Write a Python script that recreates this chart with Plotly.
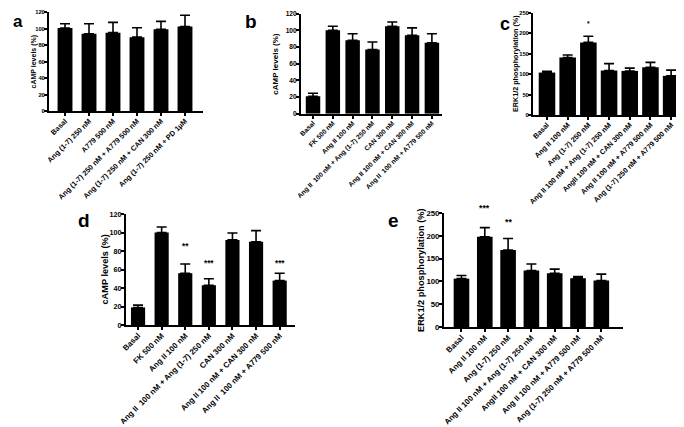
import plotly.graph_objects as go

W, H = 684, 427
FONT = "Liberation Sans, Arial, sans-serif"

# ---------------- data ----------------
a_labels = ["Basal", "Ang (1-7) 250 nM", "A779 500 nM", "Ang (1-7) 250 nM + A779 500 nM",
            "Ang (1-7) 250 nM + CAN 300 nM", "Ang (1-7) 250 nM + PD 1µM"]
a_mean = [100.5, 93.5, 95, 89.5, 99, 102.5]
a_sem = [5.3, 12.3, 12.4, 11.5, 9.6, 13.5]
a_stars = ["", "", "", "", "", ""]
a_star_y = [0, 0, 0, 0, 0, 0]

b_labels = ["Basal", "FK 500 nM", "Ang II 100 nM", "Ang II  100 nM + Ang (1-7) 250 nM",
            "CAN 300 nM", "Ang II 100 nM + CAN 300 nM", "Ang II  100 nM + A779 500 nM"]
b_mean = [21, 100, 88, 77, 105, 94, 85]
b_sem = [3.5, 5, 8, 9, 5, 9, 11]
b_stars = ["", "", "", "", "", "", ""]
b_star_y = [0, 0, 0, 0, 0, 0, 0]

c_labels = ["Basal", "Ang II 100 nM", "Ang (1-7) 250 nM", "Ang II 100 nM + Ang (1-7) 250 nM",
            "AngII 100 nM + CAN 300 nM", "Ang II 100 nM + A779 500 nM",
            "Ang (1-7) 250 nM + A779 500 nM"]
c_mean = [104, 141, 178, 109, 108, 117, 96]
c_sem = [3, 6, 15, 17, 7, 12, 14]
c_stars = ["", "", "*", "", "", "", ""]
c_star_y = [0, 0, 213, 0, 0, 0, 0]

d_labels = b_labels
d_mean = [19, 100, 56, 43, 92, 90, 48]
d_sem = [2.5, 6, 10, 7, 7.5, 12, 8]
d_stars = ["", "", "**", "***", "", "", "***"]
d_star_y = [0, 0, 79, 61, 0, 0, 61]

e_labels = c_labels
e_mean = [106, 198, 169, 124, 118, 107, 102]
e_sem = [7, 20, 25, 14, 9, 3.5, 14]
e_stars = ["", "***", "**", "", "", "", ""]
e_star_y = [0, 250, 219, 0, 0, 0, 0]

camp_title = "cAMP levels (%)"
erk_title = "ERK1/2 phosphorylation (%)"

# ---------------- layout helpers ----------------
def dx(l, r):
    return [l / W, r / W]

def dy(top, bottom):
    return [1 - bottom / H, 1 - top / H]

panels = [
    dict(letter="a", labels=a_labels, mean=a_mean, sem=a_sem, stars=a_stars, star_y=a_star_y,
         xd=(41, 195), yd=(4, 103), xr=[-0.667, 5.75], ymax=120, dtick=20, bw=0.62,
         fx=7.3, fy=5.8, ft=7, tx=25, lp=(10, 13), ls=17, title=camp_title),
    dict(letter="b", labels=b_labels, mean=b_mean, sem=b_sem, stars=b_stars, star_y=b_star_y,
         xd=(293, 434), yd=(5.7, 105.7), xr=[-0.606, 6.51], ymax=120, dtick=20, bw=0.73,
         fx=6.7, fy=6.6, ft=8, tx=268, lp=(243, 13), ls=19, title=camp_title),
    dict(letter="c", labels=c_labels, mean=c_mean, sem=c_sem, stars=c_stars, star_y=c_star_y,
         xd=(525, 683), yd=(5, 107), xr=[-0.676, 6.96], ymax=250, dtick=50, bw=0.8,
         fx=7.2, fy=5.8, ft=7.2, tx=507, lp=(497, 16), ls=18, title=erk_title),
    dict(letter="d", labels=d_labels, mean=d_mean, sem=d_sem, stars=d_stars, star_y=d_star_y,
         xd=(118, 287), yd=(206, 317), xr=[-0.51, 6.65], ymax=120, dtick=20, bw=0.6,
         fx=7.9, fy=7.2, ft=9.2, tx=96, lp=(76, 212), ls=19, title=camp_title),
    dict(letter="e", labels=e_labels, mean=e_mean, sem=e_sem, stars=e_stars, star_y=e_star_y,
         xd=(436, 615), yd=(205, 319), xr=[-0.75, 6.93], ymax=250, dtick=50, bw=0.67,
         fx=7.9, fy=7.8, ft=9.2, tx=413, lp=(385, 212), ls=19, title=erk_title),
]

fig = go.Figure()
annotations = []
layout = dict(
    width=W, height=H, margin=dict(l=0, r=0, t=0, b=0),
    paper_bgcolor="white", plot_bgcolor="white", showlegend=False,
    font=dict(family=FONT, color="black", weight="bold"),
)

for i, p in enumerate(panels):
    n = i + 1
    xa = "x" if n == 1 else f"x{n}"
    ya = "y" if n == 1 else f"y{n}"
    xkey = "xaxis" if n == 1 else f"xaxis{n}"
    ykey = "yaxis" if n == 1 else f"yaxis{n}"
    fig.add_trace(go.Bar(
        x=p["labels"], y=p["mean"], width=p["bw"], marker=dict(color="black", line=dict(width=0)),
        error_y=dict(type="data", array=p["sem"], arrayminus=[0] * len(p["sem"]), symmetric=False,
                     color="black", thickness=1.6, width=5),
        xaxis=xa, yaxis=ya,
    ))
    layout[xkey] = dict(
        domain=dx(*p["xd"]), anchor=ya, type="category", range=p["xr"],
        showline=True, linecolor="black", linewidth=2, ticks="outside", ticklen=3,
        tickwidth=1.5, tickcolor="black", tickangle=-45, showgrid=False, zeroline=False,
        automargin=False, ticklabelstandoff=-2,
        tickfont=dict(size=p["fx"], family=FONT, weight="bold", color="black"),
    )
    layout[ykey] = dict(
        domain=dy(*p["yd"]), anchor=xa, range=[0, p["ymax"]], dtick=p["dtick"],
        showline=True, linecolor="black", linewidth=2, ticks="outside", ticklen=3,
        tickwidth=1.5, tickcolor="black", showgrid=False, zeroline=False,
        automargin=False, ticklabelstandoff=-2,
        tickfont=dict(size=p["fy"], family=FONT, weight="bold", color="black"),
    )
    annotations.append(dict(
        text=p["title"], xref="paper", yref="paper", x=p["tx"] / W,
        y=1 - (p["yd"][0] + p["yd"][1]) / 2 / H, textangle=-90, showarrow=False,
        xanchor="center", yanchor="middle",
        font=dict(size=p["ft"], family=FONT, weight="bold", color="black"),
    ))
    annotations.append(dict(
        text=p["letter"], xref="paper", yref="paper", x=p["lp"][0] / W, y=1 - p["lp"][1] / H,
        showarrow=False, xanchor="center", yanchor="middle",
        font=dict(size=p["ls"], family=FONT, weight="bold", color="black"),
    ))
    for lab, s, sy in zip(p["labels"], p["stars"], p["star_y"]):
        if s:
            annotations.append(dict(
                text=s, x=lab, y=sy, xref=xa, yref=ya, showarrow=False,
                xanchor="center", yanchor="middle", yshift=5,
                font=dict(size=p["fy"] + 1, family=FONT, weight="bold", color="black"),
            ))

layout["annotations"] = annotations
fig.update_layout(**layout)
fig.write_html("out.html")
